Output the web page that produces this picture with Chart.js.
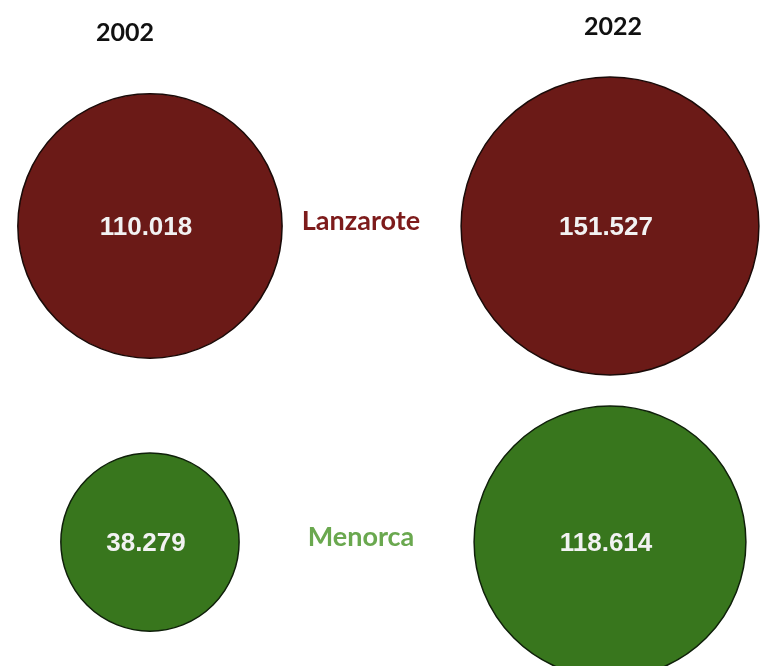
<!DOCTYPE html>
<html>
<head>
<meta charset="utf-8">
<script src="https://cdn.jsdelivr.net/npm/chart.js@4"></script>
<style>
    html, body { margin: 0; padding: 0; background: #ffffff; }
    .wrap { width: 774px; height: 666px; position: relative; }
</style>
</head>
<body>
<div class="wrap"><canvas id="grafico"></canvas></div>
<script>
const anos = ['2002', '2022'];
const ilhas = ['Lanzarote', 'Menorca'];
const lanzarote = [110018, 151527];
const menorca = [38279, 118614];

// tamanho da bolha a partir do valor
function raio(v) {
    return 1.74 * Math.pow(v, 0.373);
}

function formatar(v) {
    return v.toString().replace(/\B(?=(\d{3})+(?!\d))/g, '.');
}

function pontos(valores, linha) {
    return valores.map((v, i) => ({ x: i, y: linha, r: raio(v), valor: v }));
}

const textos = {
    id: 'textos',
    afterDatasetsDraw(chart) {
        const c = chart.ctx;
        const xs = chart.scales.x;
        const ys = chart.scales.y;
        c.save();
        c.textAlign = 'center';
        c.textBaseline = 'middle';

        // valores dentro das bolhas
        c.fillStyle = '#f2f2f2';
        c.font = 'bold 26px "Liberation Sans", Arial, sans-serif';
        chart.data.datasets.forEach((ds, di) => {
            chart.getDatasetMeta(di).data.forEach((el, i) => {
                c.fillText(formatar(ds.data[i].valor), el.x - 4, el.y + 2);
            });
        });

        // anos no topo
        c.fillStyle = '#111111';
        c.font = 'bold 25px Lato, "Open Sans", sans-serif';
        const nudgeX = [-25, 3];
        const nudgeY = [33, 27];
        anos.forEach((a, i) => {
            c.fillText(a, xs.getPixelForValue(i) + nudgeX[i], nudgeY[i]);
        });

        // nomes das ilhas entre as colunas
        const cores = ['#7d1b1b', '#6aa84f'];
        c.font = 'bold 27px Lato, "Open Sans", sans-serif';
        ilhas.forEach((nome, i) => {
            const linha = ilhas.length - 1 - i;
            c.fillStyle = cores[i];
            c.fillText(nome, xs.getPixelForValue(0.5) - 19, ys.getPixelForValue(linha) - 5);
        });
        c.restore();
    }
};

const ctx = document.getElementById('grafico');

new Chart(ctx, {
    type: 'bubble',
    data: {
        datasets: [
            {
                label: ilhas[0],
                data: pontos(lanzarote, 1),
                backgroundColor: '#6b1a17',
                borderColor: '#1a0a08',
                borderWidth: 1.5,
                clip: false
            },
            {
                label: ilhas[1],
                data: pontos(menorca, 0),
                backgroundColor: '#38761d',
                borderColor: '#0f200a',
                borderWidth: 1.5,
                clip: false
            }
        ]
    },
    options: {
        responsive: true,
        maintainAspectRatio: false,
        animation: false,
        layout: { padding: 0, autoPadding: false },
        scales: {
            x: { type: 'linear', display: false, min: -0.326, max: 1.3565 },
            y: { type: 'linear', display: false, min: -0.3924, max: 1.7152 }
        },
        plugins: {
            legend: { display: false },
            tooltip: { enabled: false }
        }
    },
    plugins: [textos]
});
</script>
</body>
</html>
